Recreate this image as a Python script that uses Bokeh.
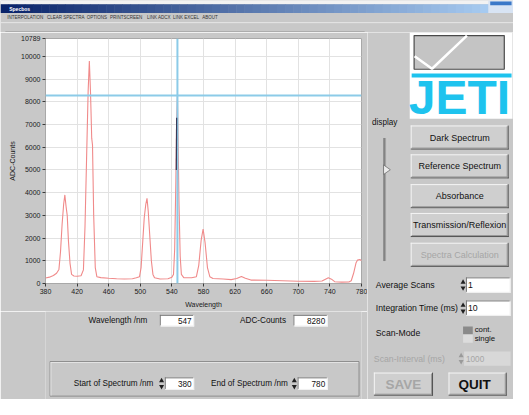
from bokeh.plotting import figure
from bokeh.layouts import column, row
from bokeh.models import Range1d, FixedTicker, Span, BoxAnnotation
from bokeh.core.properties import value
from bokeh.embed import file_html
from bokeh.resources import INLINE

# ---------------- data ----------------
wavelength_nm = [380, 385, 390, 394, 397, 399, 401, 403, 404.5, 406, 407.5, 409, 411, 413,
                 416, 420, 425, 428, 430, 432, 434, 435.5, 437, 438.5, 439.5, 441, 443, 445,
                 450, 460, 470, 480, 490, 495, 499, 501, 503, 505, 507, 508.5, 510, 512, 514,
                 516, 518, 525, 535, 540, 542, 543.5, 545, 546, 547, 548, 549, 550.5, 552,
                 555, 565, 571, 574, 577, 579.5, 582, 585, 588, 592, 605, 615, 622, 628, 633,
                 640, 660, 680, 700, 720, 730, 735, 738, 742, 746, 755, 764, 767, 770, 773,
                 775, 778, 780]
adc_counts = [240, 280, 350, 450, 620, 1400, 2600, 3500, 3900, 3400, 3000, 1900, 900, 400,
              330, 320, 340, 600, 2500, 5500, 8500, 9800, 8400, 6400, 6100, 3000, 700, 300,
              260, 230, 210, 200, 210, 250, 300, 700, 1800, 2900, 3500, 3750, 3200, 2100, 1000,
              400, 250, 200, 210, 280, 400, 1500, 4500, 7200, 8280, 6000, 3500, 1200, 400,
              260, 250, 300, 800, 1900, 2400, 1800, 700, 300, 220, 200, 170, 220, 310, 230,
              150, 140, 120, 100, 95, 110, 200, 250, 190, 80, 60, 65, 120, 450, 900,
              1030, 1060, 1000]
assert len(wavelength_nm) == len(adc_counts)
xor_wavelength_nm = [545.6, 546.0]
xor_counts = [5000, 7300]
cursor_wavelength = 547
cursor_counts = 8280
x_ticks = [380, 420, 460, 500, 540, 580, 620, 660, 700, 740, 780]
y_ticks = [0, 1000, 2000, 3000, 4000, 5000, 6000, 7000, 8000, 9000, 10000, 10789]
x_min, x_max = 380, 780
y_min, y_max = 0, 10789

window_title = "Specbos"
menu_items = ["INTERPOLATION", "CLEAR SPECTRA", "OPTIONS", "PRINTSCREEN", "LINK ADCX",
              "LINK EXCEL", "ABOUT"]
display_buttons = ["Dark Spectrum", "Reference Spectrum", "Absorbance",
                   "Transmission/Reflexion", "Spectra Calculation"]
readout_wavelength = "547"
readout_counts = "8280"
average_scans = "1"
integration_time = "10"
scan_interval = "1000"
start_nm = "380"
end_nm = "780"

# ---------------- style ----------------
BG = "#c8c8c8"
FACE = "#cfcfcf"
FONT = "Liberation Sans"
RED = "#f08a8a"
CYAN = "#8ccbe8"
LOGO = "#1ec3ee"
GREY_TXT = "#a6a6a6"

# the 529x415 screen is drawn into a 513x399 canvas
SX = 529.0 / 513.0
SY = 415.0 / 399.0


def pixfig(cx0, cx1, cy0, cy1):
    p = figure(width=cx1 - cx0, height=cy1 - cy0,
               x_range=Range1d(cx0 * SX, cx1 * SX), y_range=Range1d(cy1 * SY, cy0 * SY),
               x_axis_type=None, y_axis_type=None, toolbar_location=None, output_backend="svg",
               title=None, min_border=0, outline_line_color=None,
               background_fill_color=BG, border_fill_color=BG)
    p.min_border_left = p.min_border_right = p.min_border_top = p.min_border_bottom = 0
    return p


def txt(p, x, y, s, size="9px", align="left", color="#111111", bold=False, baseline="middle"):
    p.text(x=[x], y=[y], text=[s], text_font=value(FONT), text_font_size=size,
           text_align=align, text_baseline=baseline, text_color=color,
           text_font_style="bold" if bold else "normal")


def hline(p, x0, x1, y, color, w=1):
    p.line([x0, x1], [y, y], line_color=color, line_width=w)


def vline(p, x, y0, y1, color, w=1):
    p.line([x, x], [y0, y1], line_color=color, line_width=w)


def raised(p, l, r, t, b, face=FACE):
    p.quad(left=[l], right=[r], top=[t], bottom=[b], fill_color=face, line_color=None)
    hline(p, l, r, t + 0.5, "#f4f4f4")
    vline(p, l + 0.5, t, b, "#f4f4f4")
    hline(p, l, r, b - 0.5, "#505050")
    vline(p, r - 0.5, t, b, "#505050")
    hline(p, l + 1, r - 1, b - 1.5, "#959595")
    vline(p, r - 1.5, t + 1, b - 1, "#959595")


def sunken(p, l, r, t, b, face="white"):
    p.quad(left=[l], right=[r], top=[t], bottom=[b], fill_color=face, line_color=None)
    hline(p, l, r, t + 0.5, "#7a7a7a")
    vline(p, l + 0.5, t, b, "#7a7a7a")
    hline(p, l, r, b - 0.5, "#f0f0f0")
    vline(p, r - 0.5, t, b, "#f0f0f0")


def spinner(p, x, yc, color="#202020"):
    p.scatter([x], [yc - 3], marker="triangle", size=5, fill_color=color, line_color=None)
    p.scatter([x], [yc + 3], marker="inverted_triangle", size=5, fill_color=color, line_color=None)


# canvas partition
CX_SPLIT = 367
CY_TOP = 32
CY_MID = 311
CW, CH = 513, 399

# ---------------- top bar (title + menu) ----------------
top = pixfig(0, CW, 0, CY_TOP)
top.quad(left=[0], right=[530], top=[0], bottom=[4], fill_color="#f2f2f2", line_color=None)
n = 60
c0 = (10, 36, 106)
c1 = (166, 202, 240)
step = 503.0 / n
for i in range(n):
    f = i / (n - 1)
    col = "#%02x%02x%02x" % tuple(int(c0[k] + (c1[k] - c0[k]) * f) for k in range(3))
    top.quad(left=[i * step], right=[(i + 1) * step + 0.5], top=[4], bottom=[13],
             fill_color=col, line_color=None)
top.quad(left=[503], right=[530], top=[0], bottom=[13], fill_color="#d8e4f4", line_color=None)
top.quad(left=[505], right=[527], top=[1], bottom=[5], fill_color="#3a78c8", line_color=None)
txt(top, 9, 8.5, window_title, size="5px", color="white", bold=True)
menu_x = [7, 48, 89, 113, 151, 178, 208]
for mx, m in zip(menu_x, menu_items):
    txt(top, mx, 17.5, m, size="4.5px", color="#333333")
hline(top, 0, 529, 23, "#e6e6e6")
hline(top, 5, 375.5, 32.8, "#8c8c8c")

# ---------------- spectrum plot ----------------
FL, FR, FT, FB = 45, 6, 6, 28
sp = figure(width=CX_SPLIT, height=CY_MID - CY_TOP,
            x_range=Range1d(x_min, x_max), y_range=Range1d(y_min, y_max),
            toolbar_location=None, output_backend="svg", title=None,
            min_border_left=FL, min_border_right=FR, min_border_top=FT, min_border_bottom=FB,
            background_fill_color="white", border_fill_color=BG, outline_line_color="#a8a8a8")
sp.xaxis.ticker = FixedTicker(ticks=x_ticks)
sp.yaxis.ticker = FixedTicker(ticks=y_ticks)
sp.xaxis.axis_label = "Wavelength"
sp.yaxis.axis_label = "ADC-Counts"
for ax in sp.axis:
    ax.axis_line_color = None
    ax.major_tick_out = 3
    ax.major_tick_in = 0
    ax.minor_tick_line_color = None
    ax.major_tick_line_color = "#3a3a3a"
    ax.major_label_text_font = FONT
    ax.major_label_text_font_size = "7px"
    ax.major_label_text_color = "#202020"
    ax.major_label_standoff = 2
    ax.axis_label_text_font = FONT
    ax.axis_label_text_font_size = "7px"
    ax.axis_label_text_font_style = "normal"
    ax.axis_label_text_color = "#202020"
sp.xaxis.axis_label_standoff = 4
sp.yaxis.axis_label_standoff = 2
sp.grid.grid_line_color = "#e2e2e2"
sp.grid.grid_line_width = 1

sp.line(wavelength_nm, adc_counts, line_color=RED, line_width=1.1)
sp.add_layout(Span(location=cursor_wavelength, dimension="height", line_color=CYAN, line_width=2))
sp.add_layout(Span(location=cursor_counts, dimension="width", line_color=CYAN, line_width=2))
sp.line(xor_wavelength_nm, xor_counts, line_color="#3a3a58", line_width=1.2, level="overlay")

frame_w = CX_SPLIT - FL - FR
frame_h = (CY_MID - CY_TOP) - FT - FB


def ref2wl(rx):
    cx = rx / SX
    return x_min + (cx - FL) * (x_max - x_min) / frame_w


def ref2c(ry):
    cy = ry / SY - CY_TOP
    return (FT + frame_h - cy) * (y_max - y_min) / frame_h


sp.add_layout(BoxAnnotation(left=ref2wl(5.5), right=ref2wl(375.5), top=ref2c(33.5),
                            bottom=ref2c(322.8), fill_alpha=0, line_color="#8c8c8c", line_width=1))

# ---------------- readouts + start/end ----------------
bot = pixfig(0, CX_SPLIT, CY_MID, CH)
txt(bot, 122, 333, "Wavelength /nm", size="8.2px", align="right")
sunken(bot, 137, 178, 327, 339)
txt(bot, 175, 333, readout_wavelength, size="8.2px", align="right")
txt(bot, 288, 333, "ADC-Counts", size="8.2px", align="right")
sunken(bot, 297, 338, 327, 339)
txt(bot, 335, 333, readout_counts, size="8.2px", align="right")
bot.quad(left=[5.5], right=[375.5], top=[375.5], bottom=[411.5], fill_color=None,
         line_color="#8c8c8c", line_width=1)
hline(bot, 6.5, 374.5, 376.5, "#e4e4e4")
vline(bot, 6.5, 376, 411, "#e4e4e4")
txt(bot, 132, 398.5, "Start of Spectrum  /nm", size="8.2px", align="right")
spinner(bot, 139, 398.5)
sunken(bot, 143, 178, 392, 405)
txt(bot, 175, 398.5, start_nm, size="8.2px", align="right")
txt(bot, 293, 398.5, "End of Spectrum  /nm", size="8.2px", align="right")
spinner(bot, 298, 398.5)
sunken(bot, 302, 338, 392, 405)
txt(bot, 335, 398.5, end_nm, size="8.2px", align="right")

# ---------------- right panel ----------------
rp = pixfig(CX_SPLIT, CW, CY_TOP, CH)
# logo
rp.quad(left=[422], right=[528], top=[33], bottom=[123], fill_color="white", line_color=None)
rp.quad(left=[426.5], right=[519.5], top=[36.5], bottom=[71.5], fill_color="#c4c4c4",
        line_color="#4a4a4a", line_width=1.2)
rp.line([427, 445, 481], [58, 71, 36.5], line_color="white", line_width=2.5)
rp.quad(left=[424], right=[527], top=[76], bottom=[80], fill_color=LOGO, line_color=None)
txt(rp, 421, 101, "JETI", size="48px", color=LOGO, bold=True, baseline="middle")

txt(rp, 383, 127, "display", size="8.2px")
rp.quad(left=[395], right=[399], top=[143], bottom=[271], fill_color="#a2a2a2", line_color=None)
vline(rp, 395.5, 143, 271, "#6a6a6a")
vline(rp, 398.5, 143, 271, "#e2e2e2")
rp.patch([395, 402, 395], [171, 176, 181], fill_color="#ececec", line_color="#707070", line_width=0.8)

btn_top = [130, 160, 191, 221, 252]
for i, (bt, label) in enumerate(zip(btn_top, display_buttons)):
    raised(rp, 423, 524, bt, bt + 25)
    color = GREY_TXT if i == len(display_buttons) - 1 else "#111111"
    txt(rp, 473.5, bt + 12.5, label, size="9px", align="center", color=color)

txt(rp, 387, 296, "Average Scans", size="8.7px")
spinner(rp, 477, 296)
sunken(rp, 480, 526, 288, 304)
txt(rp, 482, 296, average_scans, size="8.7px")

txt(rp, 387, 320, "Integration Time (ms)", size="8.7px")
spinner(rp, 477, 320)
sunken(rp, 480, 526, 312, 328)
txt(rp, 482, 320, integration_time, size="8.7px")

txt(rp, 387, 346, "Scan-Mode", size="8.7px")
rp.quad(left=[477], right=[487], top=[339], bottom=[347], fill_color="#8a8a8a", line_color=None)
rp.quad(left=[477], right=[487], top=[348], bottom=[356], fill_color="#dcdcdc", line_color=None)
txt(rp, 489, 342.5, "cont.", size="7.8px")
txt(rp, 489, 352, "single", size="7.8px")

txt(rp, 385, 372.5, "Scan-Interval (ms)", size="8.7px", color=GREY_TXT)
spinner(rp, 475, 372.5, color="#9a9a9a")
rp.quad(left=[478], right=[526], top=[365], bottom=[380], fill_color="#d8d8d8", line_color=None)
txt(rp, 480, 372.5, scan_interval, size="8.2px", color=GREY_TXT)

raised(rp, 385, 446, 387, 411)
txt(rp, 415.5, 399, "SAVE", size="13.5px", align="center", color=GREY_TXT, bold=True)
raised(rp, 462, 522, 387, 411)
txt(rp, 489, 399, "QUIT", size="13.5px", align="center", color="#111111", bold=True)

layout = column(top, row(column(sp, bot), rp))
open("out.html", "w").write(file_html(layout, INLINE))
